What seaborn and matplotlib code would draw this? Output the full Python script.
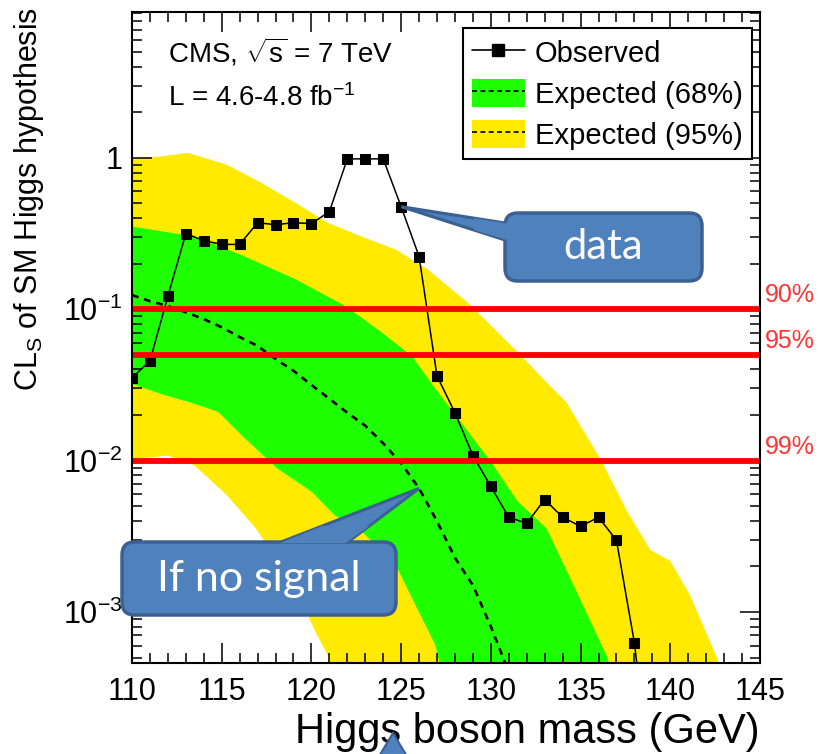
import numpy as np
import pandas as pd
import matplotlib
matplotlib.use("Agg")
import matplotlib.pyplot as plt
import matplotlib.transforms as mtransforms
import seaborn as sns
from matplotlib.patches import Patch, FancyBboxPatch, Polygon, FancyArrow
from matplotlib.lines import Line2D
from matplotlib.ticker import FixedLocator, FixedFormatter, MultipleLocator, LogLocator, NullFormatter

# ---- observed CLs vs Higgs mass ----
obs_mass = list(range(110, 140))
obs_cls = [0.0352, 0.0455, 0.122, 0.316, 0.284, 0.268, 0.268, 0.373, 0.362, 0.373,
           0.368, 0.441, 0.985, 0.985, 0.985, 0.476, 0.223, 0.0362, 0.0207, 0.0108,
           0.00675, 0.00422, 0.00385, 0.00553, 0.00422, 0.00368, 0.00422, 0.00298, 0.000625,
           0.00006]

# ---- expected median (background only) ----
exp_mass = list(range(110, 132))
exp_cls = [0.124, 0.113, 0.105, 0.0955, 0.086, 0.076, 0.0655, 0.0572, 0.0469, 0.0392,
           0.0316, 0.0256, 0.0207, 0.0170, 0.0130, 0.0096, 0.00655, 0.00397, 0.00228,
           0.0015, 0.0008, 0.0004]

# ---- 68% band edges ----
b68_up_mass = [110, 113.5, 116.3, 119.1, 121.9, 123.9, 125.6, 126.8, 128.4, 130.0,
               131.5, 133.1, 134.6, 136.5, 137.0]
b68_up = [0.352, 0.302, 0.223, 0.158, 0.105, 0.0706, 0.0491, 0.0311, 0.0175, 0.00985,
          0.00537, 0.00357, 0.00151, 0.0005, 0.0003]
b68_lo_mass = [110, 111.6, 113.5, 114.8, 116.3, 118.1, 120.0, 121.3, 122.8, 124.7,
               125.8, 126.9, 127.5]
b68_lo = [0.0321, 0.0276, 0.0237, 0.021, 0.014, 0.00886, 0.00625, 0.00435, 0.00341,
          0.00204, 0.00111, 0.000607, 0.0003]

# ---- 95% band edges ----
b95_up_mass = [110, 111.6, 113.1, 115.3, 117.2, 119.1, 120.9, 122.8, 124.7, 126.5,
               127.6, 128.7, 131.5, 133.3, 134.2, 135.1, 136.1, 137.6, 138.9, 140.0,
               141.1, 142.6, 143.2]
b95_up = [1.0, 1.02, 1.08, 0.90, 0.685, 0.506, 0.373, 0.302, 0.248, 0.183,
          0.142, 0.111, 0.0521, 0.0311, 0.0244, 0.0162, 0.0103, 0.00461, 0.00256, 0.00217,
          0.00129, 0.000498, 0.0003]
b95_lo_mass = [110, 112, 113.5, 115.3, 116.9, 119.1, 120.2, 120.9, 121.6]
b95_lo = [0.0102, 0.0108, 0.00927, 0.00589, 0.00357, 0.00144, 0.00075, 0.000521, 0.0003]

# exclusion reference levels
cl_levels = [0.1, 0.05, 0.01]
cl_labels = ["90%", "95%", "99%"]

x_ticks = [110, 115, 120, 125, 130, 135, 140, 145]
y_ticks = [1e-3, 1e-2, 1e-1, 1]
y_tick_labels = [r"$10^{-3}$", r"$10^{-2}$", r"$10^{-1}$", "1"]

GREEN = "#1EFF00"
YELLOW = "#FFEA00"
BOX_FC = "#4F81BD"
BOX_EC = "#3A6192"

sns.set_style("ticks")
plt.rcParams["font.family"] = ["Liberation Sans", "DejaVu Sans"]
plt.rcParams["mathtext.fontset"] = "custom"
plt.rcParams["mathtext.rm"] = "Liberation Sans"
plt.rcParams["mathtext.it"] = "Liberation Sans:italic"
plt.rcParams["mathtext.bf"] = "Liberation Sans:bold"
plt.rcParams["text.color"] = "black"
plt.rcParams["axes.labelcolor"] = "black"
plt.rcParams["xtick.color"] = "black"
plt.rcParams["ytick.color"] = "black"

fig = plt.figure(figsize=(8.23, 7.54), dpi=100)
ax = fig.add_axes([132 / 823, 91 / 754, 628 / 823, 651 / 754])
ax.set_axisbelow(False)

ax.set_yscale("log")
ax.set_xlim(110, 145)
ax.set_ylim(4.6e-4, 9.2)

# bands
ax.fill(np.r_[b95_up_mass, b95_lo_mass[::-1]], np.r_[b95_up, b95_lo[::-1]],
        color=YELLOW, lw=0, zorder=1)
ax.fill(np.r_[b68_up_mass, b68_lo_mass[::-1]], np.r_[b68_up, b68_lo[::-1]],
        color=GREEN, lw=0, zorder=2)

# expected median and observed
df_exp = pd.DataFrame({"mass": exp_mass, "cls": exp_cls})
df_obs = pd.DataFrame({"mass": obs_mass, "cls": obs_cls})
sns.lineplot(data=df_exp, x="mass", y="cls", ax=ax, color="k", lw=1.9, zorder=3)
exp_line = ax.get_lines()[-1]
exp_line.set_dashes((2.6, 2.2))
sns.lineplot(data=df_obs, x="mass", y="cls", ax=ax, color="k", lw=1.1, marker="s",
             markersize=7, markeredgecolor="k", zorder=4)

# CL reference lines
blend = mtransforms.blended_transform_factory(ax.transAxes, ax.transData)
lab_tr = mtransforms.offset_copy(blend, fig=fig, x=0, y=5, units="points")
for v, lab in zip(cl_levels, cl_labels):
    ax.axhline(v, color="#FF0000", lw=4.2, zorder=5)
    ax.text(1.008, v, lab, transform=lab_tr, color="#FF3333", fontsize=18,
            ha="left", va="baseline", clip_on=False)

# axes styling
ax.xaxis.set_major_locator(FixedLocator(x_ticks))
ax.xaxis.set_minor_locator(MultipleLocator(1))
ax.yaxis.set_major_locator(FixedLocator(y_ticks))
ax.yaxis.set_major_formatter(FixedFormatter(y_tick_labels))
ax.yaxis.set_minor_locator(LogLocator(base=10, subs=np.arange(2, 10)))
ax.yaxis.set_minor_formatter(NullFormatter())
ax.tick_params(which="both", direction="in", top=True, right=True, left=True, bottom=True,
               width=1.1, colors="k")
ax.tick_params(which="major", length=14.5, labelsize=22)
ax.tick_params(which="minor", length=7)
ax.tick_params(axis="x", which="major", pad=10)
ax.tick_params(axis="y", which="major", pad=7)
for sp in ax.spines.values():
    sp.set_linewidth(1.5)
    sp.set_color("k")
    sp.set_zorder(6)

ax.set_xlabel("Higgs boson mass (GeV)", fontsize=30, ha="right", va="baseline")
ax.xaxis.set_label_coords(1.0, -0.123)
ax.set_ylabel(r"CL$_{\mathrm{S}}$ of SM Higgs hypothesis", fontsize=22)
ax.yaxis.label.set_rotation_mode("anchor")
ax.yaxis.label.set_horizontalalignment("right")
ax.yaxis.label.set_verticalalignment("center")
ax.yaxis.set_label_coords(-0.164, 1.008)

ax.text(0.057, 0.922, r"CMS, $\sqrt{\mathrm{s}}$ = 7 TeV", transform=ax.transAxes,
        fontsize=20, ha="left", va="baseline")
ax.text(0.057, 0.856, r"L = 4.6-4.8 fb$^{-1}$", transform=ax.transAxes,
        fontsize=20, ha="left", va="baseline")

# legend
h_obs = Line2D([], [], color="k", lw=1.2, marker="s", ms=8)
h68 = (Patch(fc=GREEN, ec="none"), Line2D([], [], color="k", lw=1.2, dashes=(3, 2)))
h95 = (Patch(fc=YELLOW, ec="none"), Line2D([], [], color="k", lw=1.2, dashes=(3, 2)))
leg = ax.legend([h_obs, h68, h95], ["Observed", "Expected (68%)", "Expected (95%)"],
                loc="upper right", bbox_to_anchor=(0.987, 0.975), borderaxespad=0,
                fontsize=21, frameon=True, fancybox=False, edgecolor="k", framealpha=1,
                handlelength=1.8, handleheight=1.12, handletextpad=0.34,
                labelspacing=0.38, borderpad=0.32)
leg.get_frame().set_linewidth(1.5)
leg.set_zorder(10)


# callouts
def px_to_axes(px, py):
    return ((px - 132) / 628, (663 - py) / 651)


def data_to_axes(x, y):
    return ax.transAxes.inverted().transform(ax.transData.transform((x, y)))


def callout(box_px, base_px, tip_data, text, fs):
    (x0, y0) = px_to_axes(box_px[0], box_px[3])
    (x1, y1) = px_to_axes(box_px[2], box_px[1])
    b1 = px_to_axes(*base_px[0])
    b2 = px_to_axes(*base_px[1])
    tip = data_to_axes(*tip_data)
    wedge = Polygon([b1, tip, b2], closed=True, transform=ax.transAxes, fc=BOX_FC,
                    ec=BOX_EC, lw=2.2, clip_on=False, zorder=8, joinstyle="miter")
    ax.add_patch(wedge)
    box = FancyBboxPatch((x0, y0), x1 - x0, y1 - y0,
                         boxstyle="round,pad=0,rounding_size=0.02",
                         transform=ax.transAxes, fc=BOX_FC, ec=BOX_EC, lw=2.5,
                         clip_on=False, zorder=8)
    ax.add_patch(box)
    # merge the wedge into the box outline
    cx, cy = (x0 + x1) / 2, (y0 + y1) / 2
    inner = Polygon([(b1[0] + (cx - b1[0]) * 0.03, b1[1] + (cy - b1[1]) * 0.03),
                     (b1[0] + (tip[0] - b1[0]) * 0.3, b1[1] + (tip[1] - b1[1]) * 0.3),
                     (b2[0] + (tip[0] - b2[0]) * 0.3, b2[1] + (tip[1] - b2[1]) * 0.3),
                     (b2[0] + (cx - b2[0]) * 0.03, b2[1] + (cy - b2[1]) * 0.03)],
                    closed=True, transform=ax.transAxes, fc=BOX_FC, ec="none",
                    clip_on=False, zorder=8.5)
    ax.add_patch(inner)
    ax.text(cx, cy, text, transform=ax.transAxes, color="white", fontsize=fs,
            family=["Lato", "DejaVu Sans"], ha="center", va="center", zorder=9)


callout((505, 213, 702, 281), ((505, 223), (505, 240)),
        (obs_mass[15], obs_cls[15]), "data", 30)
callout((122, 542, 396, 615), ((281, 542), (348, 542)),
        (exp_mass[16], exp_cls[16]), "If no signal", 31)

# arrow from below pointing at the mass axis
arrow = FancyArrow(3.93, -0.2, 0, 0.41, width=0.13, head_width=0.36, head_length=0.3,
                   length_includes_head=True, transform=fig.dpi_scale_trans,
                   fc=BOX_FC, ec=BOX_EC, lw=1.5, zorder=12)
fig.patches.append(arrow)

fig.savefig("out.png", dpi=100)
